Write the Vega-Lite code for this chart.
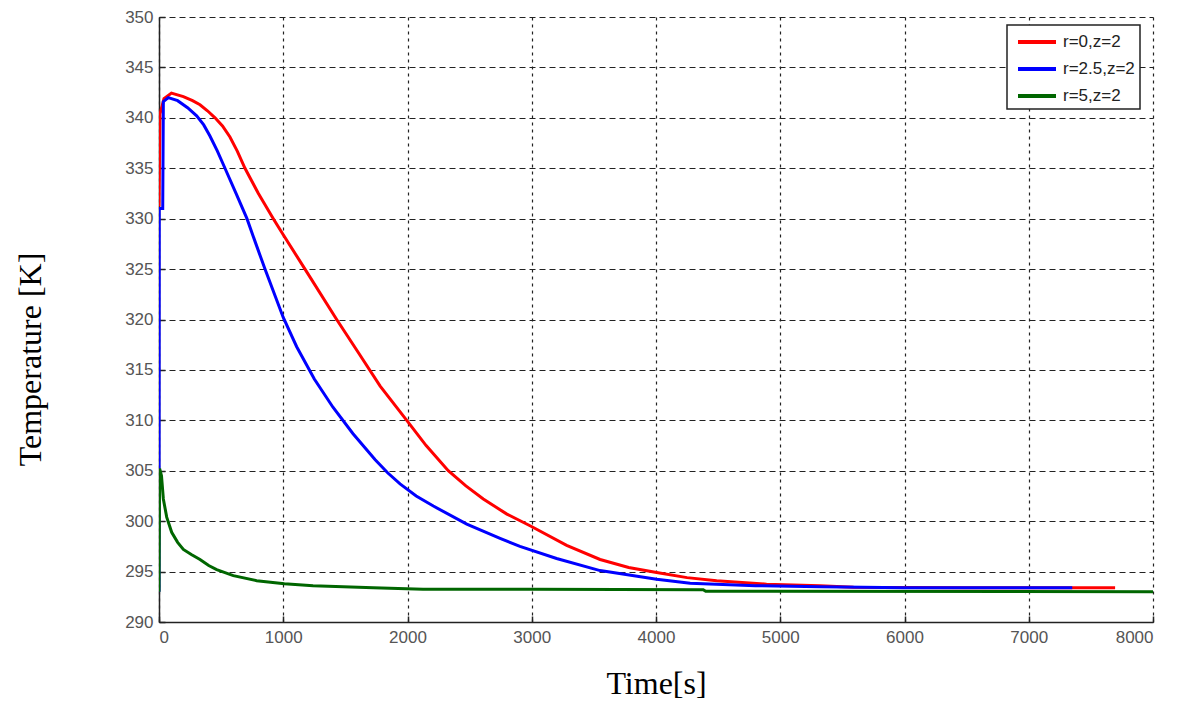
{
  "$schema": "https://vega.github.io/schema/vega-lite/v6.json",
  "autosize": {"type": "none"},
  "padding": {"left": 159, "top": 17, "right": 26, "bottom": 104},
  "width": 994,
  "height": 605,
  "background": "white",
  "data": {"values": [
    {"t": 0, "T": 331.2, "s": "r=0,z=2"},
    {"t": 8, "T": 340.4, "s": "r=0,z=2"},
    {"t": 40, "T": 341.9, "s": "r=0,z=2"},
    {"t": 100, "T": 342.45, "s": "r=0,z=2"},
    {"t": 196, "T": 342.1, "s": "r=0,z=2"},
    {"t": 270, "T": 341.7, "s": "r=0,z=2"},
    {"t": 330, "T": 341.3, "s": "r=0,z=2"},
    {"t": 390, "T": 340.7, "s": "r=0,z=2"},
    {"t": 451, "T": 340.0, "s": "r=0,z=2"},
    {"t": 511, "T": 339.2, "s": "r=0,z=2"},
    {"t": 571, "T": 338.1, "s": "r=0,z=2"},
    {"t": 630, "T": 336.7, "s": "r=0,z=2"},
    {"t": 692, "T": 335.0, "s": "r=0,z=2"},
    {"t": 800, "T": 332.5, "s": "r=0,z=2"},
    {"t": 920, "T": 330.0, "s": "r=0,z=2"},
    {"t": 1000, "T": 328.4, "s": "r=0,z=2"},
    {"t": 1175, "T": 325.0, "s": "r=0,z=2"},
    {"t": 1430, "T": 320.0, "s": "r=0,z=2"},
    {"t": 1600, "T": 316.8, "s": "r=0,z=2"},
    {"t": 1780, "T": 313.4, "s": "r=0,z=2"},
    {"t": 1994, "T": 310.0, "s": "r=0,z=2"},
    {"t": 2150, "T": 307.5, "s": "r=0,z=2"},
    {"t": 2328, "T": 305.0, "s": "r=0,z=2"},
    {"t": 2470, "T": 303.5, "s": "r=0,z=2"},
    {"t": 2610, "T": 302.2, "s": "r=0,z=2"},
    {"t": 2800, "T": 300.7, "s": "r=0,z=2"},
    {"t": 2994, "T": 299.5, "s": "r=0,z=2"},
    {"t": 3281, "T": 297.6, "s": "r=0,z=2"},
    {"t": 3550, "T": 296.2, "s": "r=0,z=2"},
    {"t": 3780, "T": 295.4, "s": "r=0,z=2"},
    {"t": 4005, "T": 294.9, "s": "r=0,z=2"},
    {"t": 4250, "T": 294.4, "s": "r=0,z=2"},
    {"t": 4488, "T": 294.1, "s": "r=0,z=2"},
    {"t": 4890, "T": 293.75, "s": "r=0,z=2"},
    {"t": 5320, "T": 293.6, "s": "r=0,z=2"},
    {"t": 5590, "T": 293.45, "s": "r=0,z=2"},
    {"t": 6500, "T": 293.4, "s": "r=0,z=2"},
    {"t": 7695, "T": 293.4, "s": "r=0,z=2"},
    {"t": 0, "T": 293.0, "s": "r=2.5,z=2"},
    {"t": 2, "T": 331.0, "s": "r=2.5,z=2"},
    {"t": 30, "T": 331.0, "s": "r=2.5,z=2"},
    {"t": 35, "T": 341.6, "s": "r=2.5,z=2"},
    {"t": 75, "T": 342.0, "s": "r=2.5,z=2"},
    {"t": 150, "T": 341.7, "s": "r=2.5,z=2"},
    {"t": 230, "T": 341.0, "s": "r=2.5,z=2"},
    {"t": 303, "T": 340.2, "s": "r=2.5,z=2"},
    {"t": 360, "T": 339.3, "s": "r=2.5,z=2"},
    {"t": 410, "T": 338.2, "s": "r=2.5,z=2"},
    {"t": 470, "T": 336.7, "s": "r=2.5,z=2"},
    {"t": 531, "T": 335.0, "s": "r=2.5,z=2"},
    {"t": 620, "T": 332.5, "s": "r=2.5,z=2"},
    {"t": 708, "T": 330.0, "s": "r=2.5,z=2"},
    {"t": 780, "T": 327.5, "s": "r=2.5,z=2"},
    {"t": 853, "T": 325.0, "s": "r=2.5,z=2"},
    {"t": 1000, "T": 320.2, "s": "r=2.5,z=2"},
    {"t": 1108, "T": 317.3, "s": "r=2.5,z=2"},
    {"t": 1250, "T": 314.1, "s": "r=2.5,z=2"},
    {"t": 1400, "T": 311.3, "s": "r=2.5,z=2"},
    {"t": 1560, "T": 308.7, "s": "r=2.5,z=2"},
    {"t": 1740, "T": 306.1, "s": "r=2.5,z=2"},
    {"t": 1840, "T": 304.8, "s": "r=2.5,z=2"},
    {"t": 1940, "T": 303.7, "s": "r=2.5,z=2"},
    {"t": 2070, "T": 302.5, "s": "r=2.5,z=2"},
    {"t": 2208, "T": 301.5, "s": "r=2.5,z=2"},
    {"t": 2477, "T": 299.7, "s": "r=2.5,z=2"},
    {"t": 2745, "T": 298.3, "s": "r=2.5,z=2"},
    {"t": 2905, "T": 297.5, "s": "r=2.5,z=2"},
    {"t": 3200, "T": 296.3, "s": "r=2.5,z=2"},
    {"t": 3550, "T": 295.1, "s": "r=2.5,z=2"},
    {"t": 4005, "T": 294.25, "s": "r=2.5,z=2"},
    {"t": 4275, "T": 293.85, "s": "r=2.5,z=2"},
    {"t": 4800, "T": 293.6, "s": "r=2.5,z=2"},
    {"t": 5320, "T": 293.5, "s": "r=2.5,z=2"},
    {"t": 6000, "T": 293.4, "s": "r=2.5,z=2"},
    {"t": 7350, "T": 293.4, "s": "r=2.5,z=2"},
    {"t": 0, "T": 293.0, "s": "r=5,z=2"},
    {"t": 5, "T": 305.2, "s": "r=5,z=2"},
    {"t": 20, "T": 304.5, "s": "r=5,z=2"},
    {"t": 35, "T": 302.2, "s": "r=5,z=2"},
    {"t": 62, "T": 300.4, "s": "r=5,z=2"},
    {"t": 102, "T": 298.9, "s": "r=5,z=2"},
    {"t": 150, "T": 297.9, "s": "r=5,z=2"},
    {"t": 196, "T": 297.2, "s": "r=5,z=2"},
    {"t": 260, "T": 296.7, "s": "r=5,z=2"},
    {"t": 330, "T": 296.2, "s": "r=5,z=2"},
    {"t": 400, "T": 295.6, "s": "r=5,z=2"},
    {"t": 464, "T": 295.2, "s": "r=5,z=2"},
    {"t": 598, "T": 294.6, "s": "r=5,z=2"},
    {"t": 786, "T": 294.1, "s": "r=5,z=2"},
    {"t": 1009, "T": 293.8, "s": "r=5,z=2"},
    {"t": 1240, "T": 293.6, "s": "r=5,z=2"},
    {"t": 1725, "T": 293.4, "s": "r=5,z=2"},
    {"t": 2125, "T": 293.25, "s": "r=5,z=2"},
    {"t": 3000, "T": 293.25, "s": "r=5,z=2"},
    {"t": 4380, "T": 293.2, "s": "r=5,z=2"},
    {"t": 4400, "T": 293.05, "s": "r=5,z=2"},
    {"t": 8000, "T": 293.0, "s": "r=5,z=2"}
  ]},
  "mark": {"type": "line", "strokeWidth": 3, "clip": true},
  "encoding": {
    "x": {
      "field": "t", "type": "quantitative",
      "scale": {"domain": [0, 8000], "nice": false, "zero": false},
      "axis": {"values": [0,1000,2000,3000,4000,5000,6000,7000,8000], "title": "Time[s]", "format": "d"}
    },
    "y": {
      "field": "T", "type": "quantitative",
      "scale": {"domain": [290, 350], "nice": false, "zero": false},
      "axis": {"values": [290,295,300,305,310,315,320,325,330,335,340,345,350], "title": "Temperature [K]", "format": "d"}
    },
    "color": {
      "field": "s", "type": "nominal",
      "scale": {"domain": ["r=0,z=2", "r=2.5,z=2", "r=5,z=2"], "range": ["#ff0000", "#0000ff", "#006600"]},
      "legend": {
        "title": null, "orient": "none", "legendX": 848, "legendY": 8,
        "symbolType": "M-1.9,0H1.9", "symbolSize": 400, "symbolStrokeWidth": 4, "symbolOffset": 13,
        "symbolFillColor": "transparent",
        "labelFont": "Liberation Sans", "labelFontSize": 17, "labelColor": "#222", "labelOffset": 14,
        "strokeColor": "#222", "fillColor": "white", "padding": 5, "rowPadding": 7,
        "cornerRadius": 0
      }
    },
    "order": {"field": "t", "type": "quantitative"}
  },
  "config": {
    "view": {"stroke": null},
    "legend": {"strokeWidth": 1.5},
    "axis": {
      "domainColor": "#222", "domainWidth": 1.5,
      "tickColor": "#222", "tickSize": -6, "tickWidth": 1.5,
      "grid": true, "gridColor": "#222", "gridWidth": 1.2,
      "labelFont": "Liberation Sans", "labelFontSize": 17, "labelColor": "#555",
      "titleFont": "Liberation Serif", "titleFontSize": 32, "titleFontWeight": "normal", "titleColor": "#000"
    },
    "axisX": {"gridDash": [3, 4], "labelPadding": 13, "titleY": 61, "titleBaseline": "middle"},
    "axisY": {"gridDash": [6, 4], "labelPadding": 12, "titleX": -129, "titleY": 342, "titleBaseline": "middle", "titleAngle": -90}
  }
}
